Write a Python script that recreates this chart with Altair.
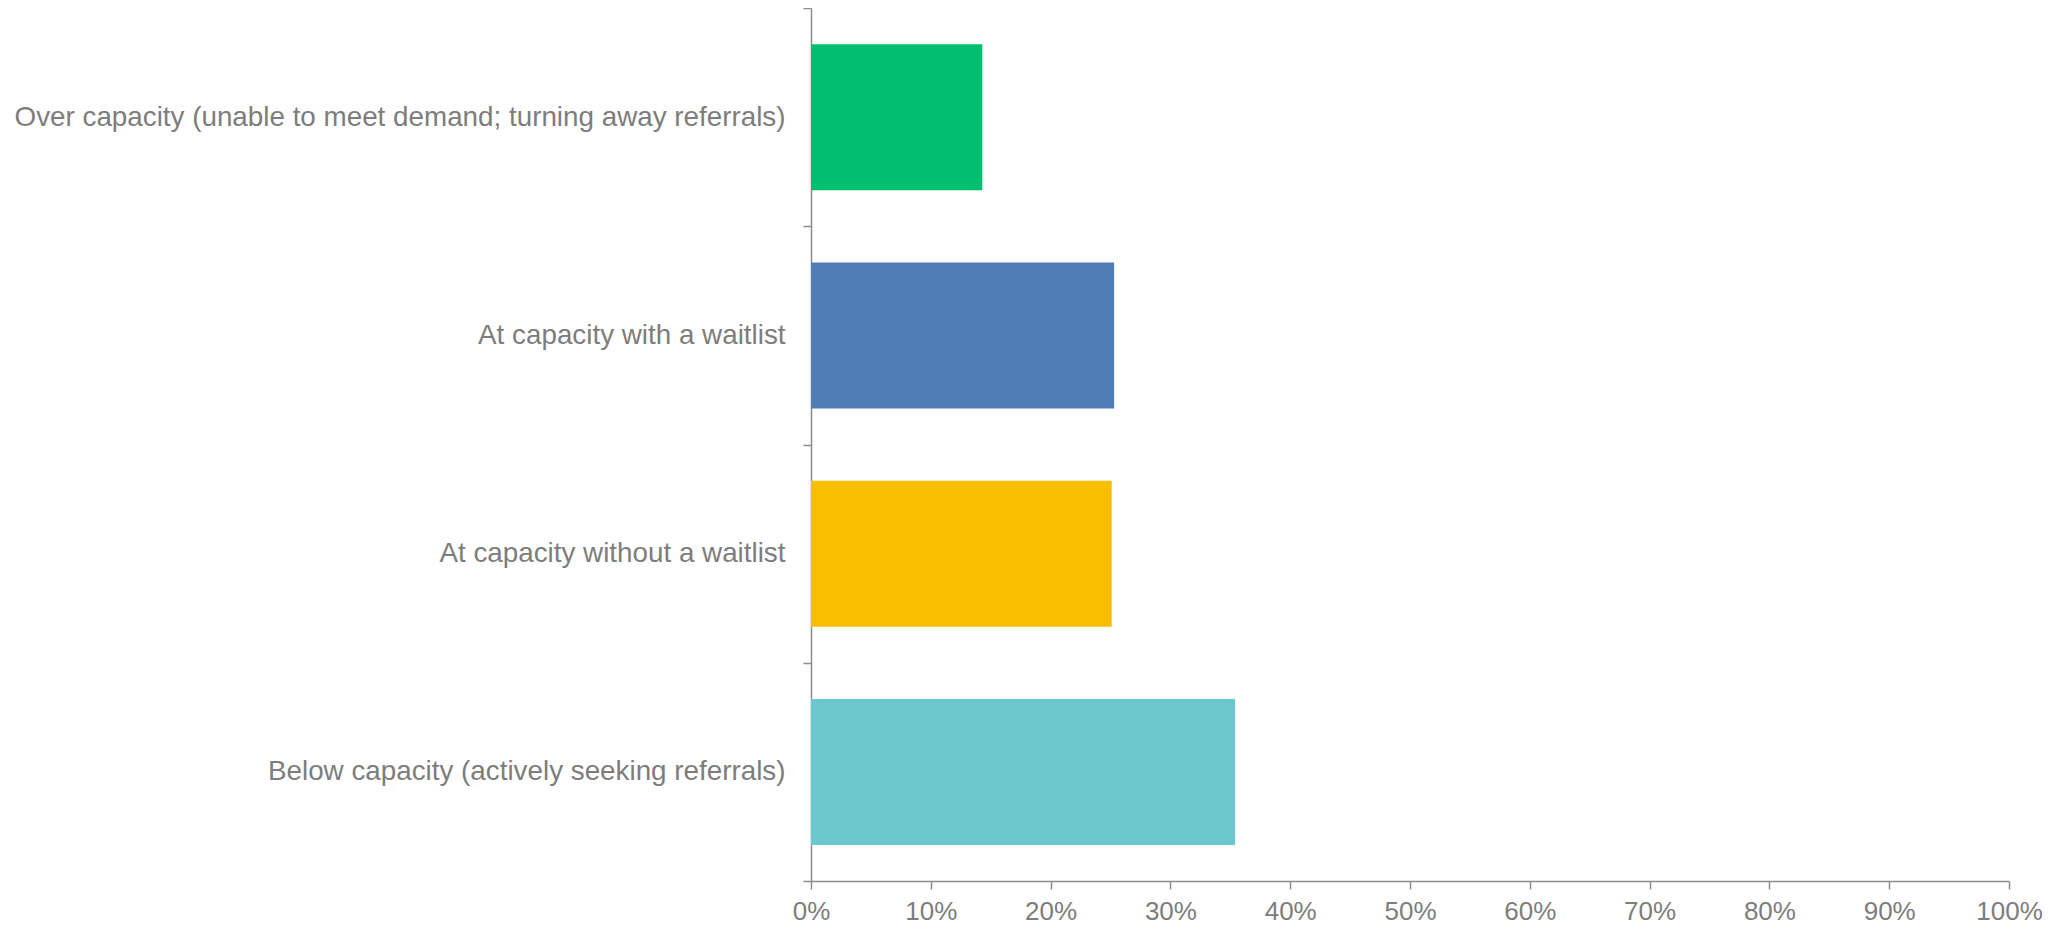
import altair as alt
import pandas as pd

categories = [
    "Over capacity (unable to meet demand; turning away referrals)",
    "At capacity with a waitlist",
    "At capacity without a waitlist",
    "Below capacity (actively seeking referrals)",
]
values = [0.143, 0.253, 0.251, 0.354]
colors = ["#00BF6F", "#507CB6", "#F9BE00", "#6BC8CD"]
x_ticks = [0, 0.1, 0.2, 0.3, 0.4, 0.5, 0.6, 0.7, 0.8, 0.9, 1.0]

df = pd.DataFrame({"category": categories, "value": values})

FONT = "Liberation Sans"
LABEL = "#7d7d7d"
AXIS = "#8c8c8c"

chart = (
    alt.Chart(df)
    .mark_bar(size=146)
    .encode(
        y=alt.Y(
            "category:N",
            sort=categories,
            scale=alt.Scale(paddingInner=0, paddingOuter=0),
            axis=alt.Axis(
                title=None,
                tickBand="extent",
                tickSize=8,
                labelPadding=18,
                labelFontSize=27.8,
                labelFont=FONT,
                labelColor=LABEL,
                labelLimit=1000,
                domainColor=AXIS,
                tickColor=AXIS,
                domainWidth=1.5,
                tickWidth=1.5,
            ),
        ),
        x=alt.X(
            "value:Q",
            scale=alt.Scale(domain=[0, 1], nice=False),
            axis=alt.Axis(
                title=None,
                values=x_ticks,
                format=".0%",
                grid=False,
                tickSize=8,
                labelBaseline="alphabetic",
                labelPadding=30,
                labelFontSize=26,
                labelFont=FONT,
                labelColor=LABEL,
                domainColor=AXIS,
                tickColor=AXIS,
                domainWidth=1.5,
                tickWidth=1.5,
                labelFlush=False,
            ),
        ),
        color=alt.Color(
            "category:N",
            scale=alt.Scale(domain=categories, range=colors),
            legend=None,
        ),
    )
    .properties(
        width=1198,
        height=873,
        autosize=alt.AutoSizeParams(type="none"),
        padding={"left": 803, "top": 0, "right": 47, "bottom": 43},
    )
    .configure_view(stroke=None)
)

chart.save("out.html", embed_options={"renderer": "svg", "actions": False})
